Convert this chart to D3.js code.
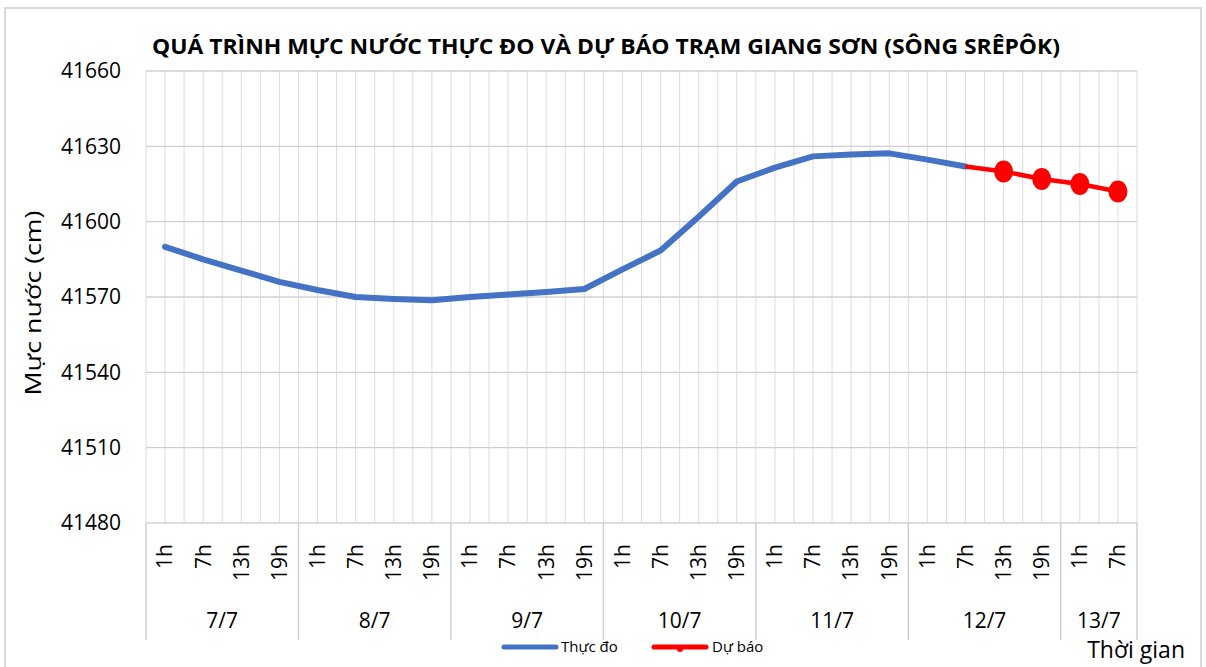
<!DOCTYPE html>
<html>
<head>
<meta charset="utf-8">
<script src="https://cdn.jsdelivr.net/npm/d3@7"></script>
<style>
  body { margin: 0; background: #fff; }
  text { font-family: "Liberation Sans Narrow", "Open Sans", sans-serif; fill: #000; }
</style>
</head>
<body>
<div id="chart"></div>
<script>
// categories: one entry per observation time
var hourLabels = ["1h","7h","13h","19h","1h","7h","13h","19h","1h","7h","13h","19h",
                  "1h","7h","13h","19h","1h","7h","13h","19h","1h","7h","13h","19h","1h","7h"];
var dayLabels = ["7/7","8/7","9/7","10/7","11/7","12/7","13/7"];
var dayCounts = [4, 4, 4, 4, 4, 4, 2];

// water level (cm)
var observed = [41590, 41585, 41580.5, 41576, 41572.8, 41570, 41569.2, 41568.7,
                41570, 41571, 41572, 41573.2, 41581, 41588.5, 41602, 41616,
                41621.5, 41626, 41626.7, 41627.2, 41624.7, 41622];
var forecast = [null, null, null, null, null, null, null, null, null, null, null,
                null, null, null, null, null, null, null, null, null, null,
                41622, 41620, 41617, 41615, 41612];
var yTicks = [41480, 41510, 41540, 41570, 41600, 41630, 41660];

var width = 1206, height = 667;
var margin = {left: 146, right: 69, top: 71, bottom: 144};

var svg = d3.select("#chart").append("svg")
    .attr("width", width)
    .attr("height", height);

// outer chart frame
svg.append("path")
    .attr("d", "M5,667 V8 H1201 V667")
    .attr("fill", "none")
    .attr("stroke", "#d9d9d9")
    .attr("stroke-width", 2);

var idx = d3.range(hourLabels.length);

var x = d3.scaleBand()
    .domain(idx)
    .range([margin.left, width - margin.right])
    .padding(0);

var y = d3.scaleLinear()
    .domain([41480, 41660])
    .range([height - margin.bottom, margin.top]);

var bw = x.bandwidth();

// vertical gridlines (category boundaries and centres)
var vLines = d3.range(hourLabels.length * 2 + 1);
svg.append("g").selectAll("line")
    .data(vLines)
    .enter()
    .append("line")
    .attr("x1", function(d) { return margin.left + d * bw / 2; })
    .attr("x2", function(d) { return margin.left + d * bw / 2; })
    .attr("y1", y(41660))
    .attr("y2", y(41480))
    .attr("stroke", "#dcdcdc")
    .attr("stroke-width", 1);

// horizontal gridlines
svg.append("g").selectAll("line")
    .data(yTicks)
    .enter()
    .append("line")
    .attr("x1", margin.left)
    .attr("x2", width - margin.right)
    .attr("y1", function(d) { return y(d); })
    .attr("y2", function(d) { return y(d); })
    .attr("stroke", "#d0d0d0")
    .attr("stroke-width", 1.3);

// y axis labels
svg.append("g").selectAll("text")
    .data(yTicks)
    .enter()
    .append("text")
    .attr("x", 121)
    .attr("y", function(d) { return y(d); })
    .attr("dy", "0.35em")
    .attr("text-anchor", "end")
    .style("font-size", "21px")
    .text(function(d) { return d; });

// y axis title
svg.append("text")
    .attr("transform", "translate(41,303) rotate(-90)")
    .attr("text-anchor", "middle")
    .attr("textLength", 185)
    .attr("lengthAdjust", "spacingAndGlyphs")
    .style("font-size", "22px")
    .text("Mực nước (cm)");

// title
svg.append("text")
    .attr("x", 606)
    .attr("y", 54)
    .attr("text-anchor", "middle")
    .attr("textLength", 908)
    .attr("lengthAdjust", "spacingAndGlyphs")
    .style("font-size", "21px")
    .style("font-weight", "bold")
    .text("QUÁ TRÌNH MỰC NƯỚC THỰC ĐO VÀ DỰ BÁO TRẠM GIANG SƠN (SÔNG SRÊPÔK)");

// hour labels, rotated
svg.append("g").selectAll("text")
    .data(idx)
    .enter()
    .append("text")
    .attr("transform", function(d) {
        return "translate(" + (x(d) + bw / 2) + ",544) rotate(-90)";
    })
    .attr("text-anchor", "end")
    .attr("dy", "0.35em")
    .style("font-size", "21px")
    .text(function(d) { return hourLabels[d]; });

// day separators and labels
var dayStart = [0];
dayCounts.forEach(function(c, i) { dayStart.push(dayStart[i] + c); });

svg.append("g").selectAll("line")
    .data(dayStart)
    .enter()
    .append("line")
    .attr("x1", function(d) { return margin.left + d * bw; })
    .attr("x2", function(d) { return margin.left + d * bw; })
    .attr("y1", y(41480))
    .attr("y2", 640)
    .attr("stroke", "#d0d0d0")
    .attr("stroke-width", 1.5);

svg.append("g").selectAll("text")
    .data(dayLabels)
    .enter()
    .append("text")
    .attr("x", function(d, i) { return margin.left + (dayStart[i] + dayCounts[i] / 2) * bw; })
    .attr("y", 628)
    .attr("text-anchor", "middle")
    .style("font-size", "21px")
    .text(function(d) { return d; });

// x axis title
svg.append("text")
    .attr("x", 1185)
    .attr("y", 658)
    .attr("text-anchor", "end")
    .style("font-size", "23px")
    .text("Thời gian");

// series lines
var line = d3.line()
    .defined(function(d) { return d != null; })
    .x(function(d, i) { return x(i) + bw / 2; })
    .y(function(d) { return y(d); });

svg.append("path")
    .datum(observed)
    .attr("d", line)
    .attr("fill", "none")
    .attr("stroke", "#4472C4")
    .attr("stroke-width", 6)
    .attr("stroke-linejoin", "round")
    .attr("stroke-linecap", "round");

svg.append("path")
    .datum(forecast)
    .attr("d", line)
    .attr("fill", "none")
    .attr("stroke", "#FF0000")
    .attr("stroke-width", 4.5);

// forecast markers (first forecast point has none)
svg.append("g").selectAll("ellipse")
    .data(forecast.map(function(v, i) { return {v: v, i: i}; })
        .filter(function(d) { return d.v != null && d.i > 21; }))
    .enter()
    .append("ellipse")
    .attr("cx", function(d) { return x(d.i) + bw / 2; })
    .attr("cy", function(d) { return y(d.v); })
    .attr("rx", 9.5)
    .attr("ry", 11)
    .attr("fill", "#FF0000");

// legend
var legend = svg.append("g").attr("transform", "translate(0,647)");
legend.append("line")
    .attr("x1", 504).attr("x2", 556)
    .attr("stroke", "#4472C4").attr("stroke-width", 5)
    .attr("stroke-linecap", "round");
legend.append("text")
    .attr("x", 561).attr("dy", "0.35em")
    .style("font-size", "15px")
    .text("Thực đo");
legend.append("line")
    .attr("x1", 654).attr("x2", 706)
    .attr("stroke", "#FF0000").attr("stroke-width", 5)
    .attr("stroke-linecap", "round");
legend.append("circle")
    .attr("cx", 680).attr("cy", 2).attr("r", 3)
    .attr("fill", "#FF0000");
legend.append("text")
    .attr("x", 712).attr("dy", "0.35em")
    .style("font-size", "15px")
    .text("Dự báo");
</script>
</body>
</html>
